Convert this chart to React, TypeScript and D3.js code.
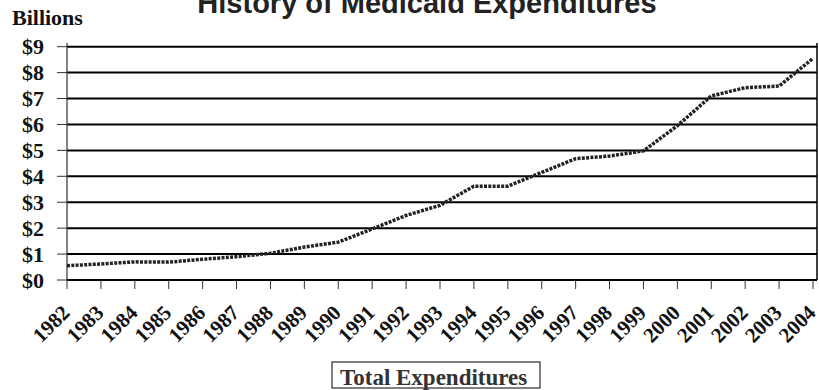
import React from "react";
import * as d3 from "d3";

const years = [1982,1983,1984,1985,1986,1987,1988,1989,1990,1991,1992,1993,1994,1995,1996,1997,1998,1999,2000,2001,2002,2003,2004];
const expenditures = [0.55,0.62,0.70,0.69,0.80,0.90,1.03,1.27,1.46,1.97,2.49,2.88,3.62,3.62,4.15,4.68,4.78,4.98,5.95,7.10,7.42,7.48,8.55];
const yTicks = [0,1,2,3,4,5,6,7,8,9];
const yTickLabels = ["$0","$1","$2","$3","$4","$5","$6","$7","$8","$9"];
const title = "History of Medicaid Expenditures";
const unitLabel = "Billions";
const legendLabel = "Total Expenditures";

const W = 819, H = 390;
const left = 67, right = 813, top = 46.7, bottom = 280;
const serif = "\"Liberation Serif\", \"Times New Roman\", \"DejaVu Serif\", serif";
const sans = "\"Liberation Sans\", Arial, sans-serif";
const serifStyle = { fontFamily: serif, fontWeight: 700 } as React.CSSProperties;

export default function App() {
  const x = d3.scaleLinear().domain([years[0], years[years.length - 1]]).range([left, right]);
  const y = d3.scaleLinear().domain([0, 9]).range([bottom, top]);
  const line = d3.line<number>().x((_, i) => x(years[i])).y(d => y(d));
  return (
    <svg width={W} height={H} style={{ position: "absolute", left: 0, top: 0, background: "#fff" }}>
      <text x={427} y={13} textAnchor="middle" style={{ fontFamily: sans, fontWeight: 700 }} fontSize={29} fill="#222">{title}</text>
      <text x={12} y={25} style={serifStyle} fontSize={22} fill="#111">{unitLabel}</text>
      {yTicks.map((t, i) => (
        <g key={t}>
          <line x1={left} x2={817} y1={y(t)} y2={y(t)} stroke="#000" strokeWidth={2} />
          <line x1={57} x2={left} y1={y(t)} y2={y(t)} stroke="#333" strokeWidth={1} />
          <text x={44} y={y(t)} dy="0.35em" textAnchor="end" style={serifStyle} fontSize={22} fill="#111">{yTickLabels[i]}</text>
        </g>
      ))}
      <line x1={left} x2={left} y1={43} y2={bottom} stroke="#333" strokeWidth={1.2} />
      <line x1={817} x2={817} y1={43} y2={bottom} stroke="#000" strokeWidth={1.5} />
      {years.map(yr => (
        <g key={yr}>
          <line x1={x(yr)} x2={x(yr)} y1={bottom} y2={289} stroke="#333" strokeWidth={1} />
          <text transform={`translate(${x(yr) + 4},${314}) rotate(-45)`} textAnchor="end" style={serifStyle} fontSize={21} fill="#111">{yr}</text>
        </g>
      ))}
      <path d={line(expenditures) || ""} fill="none" stroke="#222" strokeWidth={3.5} strokeDasharray="3,1.3" />
      <rect x={332} y={362} width={208} height={26} fill="#fff" stroke="#000" strokeWidth={1} />
      <text x={340} y={384.5} style={serifStyle} fontSize={23} fill="#333">{legendLabel}</text>
    </svg>
  );
}
